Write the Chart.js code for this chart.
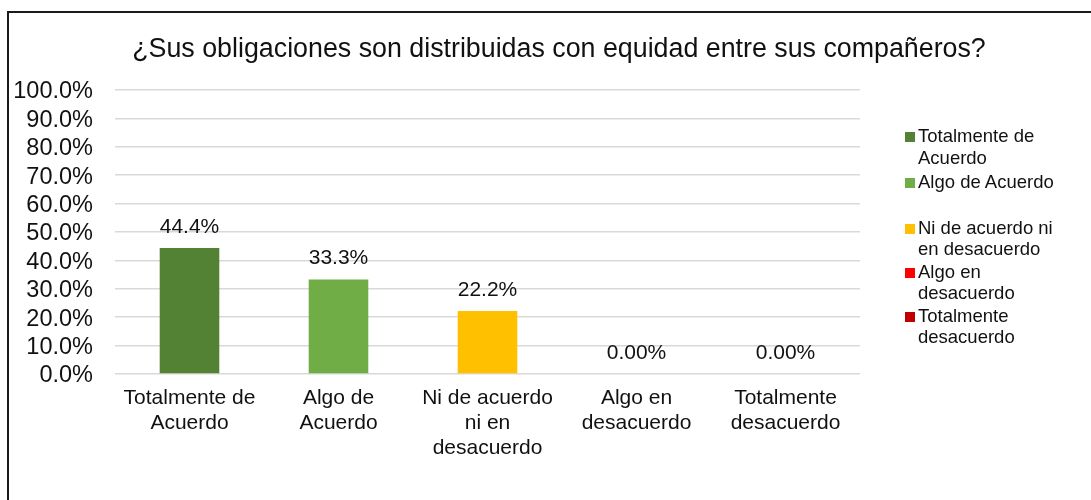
<!DOCTYPE html>
<html>
<head>
<meta charset="utf-8">
<script src="https://cdn.jsdelivr.net/npm/chart.js@4"></script>
<style>
  html, body { margin: 0; padding: 0; background: #fff; }
  body { width: 1091px; height: 500px; position: relative; overflow: hidden; font-family: "Liberation Sans", Arial, sans-serif; }
  #frame { position: absolute; left: 7px; top: 11px; width: 1200px; height: 600px; border: 2px solid #1a1a1a; box-sizing: border-box; }
  #wrap { position: absolute; left: 0; top: 0; width: 1091px; height: 500px; }
  #title { position: absolute; left: 0; width: 1118px; top: 32px; text-align: center; font-size: 26.8px; line-height: 32px; color: #111; white-space: nowrap; }
  #legend { position: absolute; left: 905px; top: 125px; width: 180px; }
  .item { position: relative; padding-left: 13px; font-size: 18.5px; line-height: 21.5px; color: #111; margin-bottom: 1px; }
  .item:nth-child(1) { margin-bottom: 3px; }
  .item:nth-child(2) { margin-bottom: 24px; }
  .sw { position: absolute; left: 0; top: 7px; width: 10px; height: 10px; }
</style>
</head>
<body>
<div id="frame"></div>
<div id="wrap"><canvas id="c" width="1091" height="500"></canvas></div>
<div id="title"></div>
<div id="legend"></div>
<script>
const titleText = "¿Sus obligaciones son distribuidas con equidad entre sus compañeros?";
const categories = [
  ["Totalmente de", "Acuerdo"],
  ["Algo de", "Acuerdo"],
  ["Ni de acuerdo", "ni en", "desacuerdo"],
  ["Algo en", "desacuerdo"],
  ["Totalmente", "desacuerdo"]
];
const legendLabels = [
  ["Totalmente de", "Acuerdo"],
  ["Algo de Acuerdo"],
  ["Ni de acuerdo ni", "en desacuerdo"],
  ["Algo en", "desacuerdo"],
  ["Totalmente", "desacuerdo"]
];
const values = [0.444, 0.333, 0.222, 0, 0];
const valueLabels = ["44.4%", "33.3%", "22.2%", "0.00%", "0.00%"];
const colors = ["#548235", "#70AD47", "#FFC000", "#FF0000", "#C00000"];

document.getElementById('title').textContent = titleText;
const leg = document.getElementById('legend');
legendLabels.forEach((lines, i) => {
  const d = document.createElement('div');
  d.className = 'item';
  const sw = document.createElement('span');
  sw.className = 'sw';
  sw.style.background = colors[i];
  d.appendChild(sw);
  lines.forEach((t, j) => {
    if (j) d.appendChild(document.createElement('br'));
    d.appendChild(document.createTextNode(t));
  });
  leg.appendChild(d);
});

const FONT = "'Liberation Sans', Arial, sans-serif";

const dataLabels = {
  id: 'dataLabels',
  afterDatasetsDraw(chart) {
    const ctx = chart.ctx;
    const meta = chart.getDatasetMeta(0);
    ctx.save();
    ctx.font = "21px " + FONT;
    ctx.fillStyle = "#111";
    ctx.textAlign = "center";
    ctx.textBaseline = "alphabetic";
    meta.data.forEach((bar, i) => {
      ctx.fillText(valueLabels[i], bar.x, bar.y - 15);
    });
    ctx.restore();
  }
};

new Chart(document.getElementById('c'), {
  type: 'bar',
  data: {
    labels: categories,
    datasets: [{
      data: values,
      backgroundColor: colors,
      borderWidth: 0,
      categoryPercentage: 0.4,
      barPercentage: 1
    }]
  },
  options: {
    responsive: false,
    animation: false,
    devicePixelRatio: 1,
    layout: { padding: { top: 90, left: 0, right: 231, bottom: 0 } },
    plugins: {
      legend: { display: false },
      title: { display: false },
      tooltip: { enabled: false }
    },
    scales: {
      x: {
        grid: { display: false, drawTicks: false },
        border: { display: false },
        ticks: {
          color: "#111",
          font: { family: FONT, size: 21, lineHeight: 25 / 21 },
          padding: 12,
          maxRotation: 0,
          autoSkip: false
        },
        afterFit(scale) { scale.height = 126; }
      },
      y: {
        min: 0,
        max: 1,
        grid: { color: "#d9d9d9", lineWidth: 1.5, drawTicks: false },
        border: { display: false },
        ticks: {
          stepSize: 0.1,
          count: 11,
          autoSkip: false,
          color: "#111",
          font: { family: FONT, size: 23.5, lineHeight: 1 },
          padding: 22,
          labelOffset: 2,
          callback: v => (v * 100).toFixed(1) + "%"
        },
        afterFit(scale) { scale.width = 115; }
      }
    }
  },
  plugins: [dataLabels]
});
</script>
</body>
</html>
